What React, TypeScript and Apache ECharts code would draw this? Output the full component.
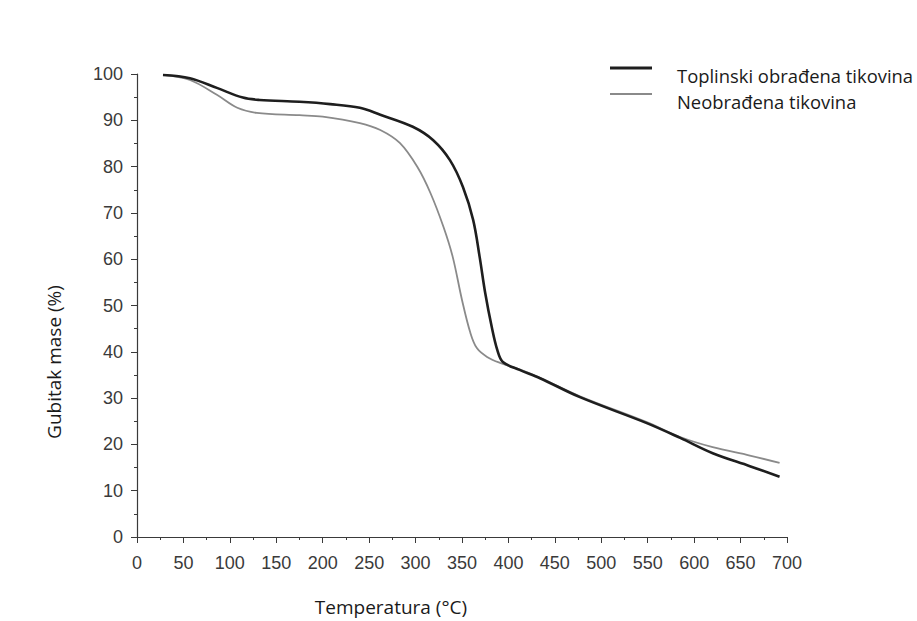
import React, { useEffect, useRef } from "react";
import * as echarts from "echarts";

// Temperature (°C) / mass (%) samples for each TGA curve
const treatedTemp = [28, 57, 86, 114, 132, 175, 208, 240, 262, 297, 319, 337, 351, 362, 369, 375, 382, 388, 394, 412, 434, 477, 549, 585, 620, 660, 692];
const treatedMass = [99.8, 99.1, 97.0, 94.9, 94.4, 94.0, 93.5, 92.7, 91.2, 88.6, 85.7, 81.4, 75.6, 68.5, 60.5, 52.7, 45.4, 40.4, 37.8, 36.1, 34.3, 30.2, 24.6, 21.4, 18.1, 15.3, 13.0];

const rawTemp = [28, 57, 86, 108, 129, 175, 200, 240, 262, 283, 302, 316, 330, 340, 350, 359, 366, 377, 391, 412, 434, 477, 549, 585, 620, 660, 692];
const rawMass = [99.8, 98.7, 95.5, 92.7, 91.6, 91.1, 90.8, 89.4, 87.9, 85.1, 79.9, 74.3, 67.0, 60.5, 51.2, 44.1, 40.8, 38.9, 37.6, 36.2, 34.4, 30.4, 24.8, 21.6, 19.4, 17.6, 16.0];

const seriesNames = ["Toplinski obrađena tikovina", "Neobrađena tikovina"];
const xTitle = "Temperatura (°C)";
const yTitle = "Gubitak mase (%)";

const zip = (xs: number[], ys: number[]) => xs.map((x, i) => [x, ys[i]]);

export default function App() {
  const ref = useRef<HTMLDivElement>(null);

  useEffect(() => {
    if (!ref.current) return;
    const chart = echarts.init(ref.current, null, { renderer: "svg" });
    const axisColor = "#3a3a3a";
    const labelFont = { fontFamily: "Liberation Sans, Arial, sans-serif", fontSize: 18, color: "#3a3a3a" };
    const titleFont = "Open Sans, sans-serif";
    const titleSize = 19;
    const legendSize = 18.4;

    chart.setOption({
      animation: false,
      backgroundColor: "#fff",
      grid: { left: 137, right: 130, top: 74, bottom: 84, containLabel: false },
      xAxis: {
        type: "value",
        min: 0,
        max: 700,
        interval: 50,
        axisLine: { show: true, lineStyle: { color: axisColor, width: 1.2 } },
        axisTick: { show: true, inside: false, length: 6, lineStyle: { color: axisColor } },
        minorTick: { show: true, splitNumber: 2, length: 3, lineStyle: { color: axisColor } },
        axisLabel: { ...labelFont, margin: 17 },
        splitLine: { show: false },
      },
      yAxis: {
        type: "value",
        min: 0,
        max: 100,
        interval: 10,
        axisLine: { show: true, lineStyle: { color: axisColor, width: 1.2 } },
        axisTick: { show: true, inside: false, length: 6, lineStyle: { color: axisColor } },
        minorTick: { show: true, splitNumber: 2, length: 3, lineStyle: { color: axisColor } },
        axisLabel: { ...labelFont, margin: 14 },
        splitLine: { show: false },
      },
      series: [
        {
          name: seriesNames[1],
          type: "line",
          data: zip(rawTemp, rawMass),
          smooth: 0.35,
          showSymbol: false,
          lineStyle: { color: "#8a8a8a", width: 1.8 },
        },
        {
          name: seriesNames[0],
          type: "line",
          data: zip(treatedTemp, treatedMass),
          smooth: 0.35,
          showSymbol: false,
          lineStyle: { color: "#1e1e1e", width: 2.6 },
        },
      ],
      graphic: [
        {
          type: "line",
          shape: { x1: 610, y1: 68, x2: 652, y2: 68 },
          style: { stroke: "#1e1e1e", lineWidth: 3 },
        },
        {
          type: "line",
          shape: { x1: 610, y1: 94, x2: 652, y2: 94 },
          style: { stroke: "#8a8a8a", lineWidth: 1.8 },
        },
        {
          type: "text",
          x: 677,
          y: 75,
          style: { text: seriesNames[0], fontFamily: titleFont, fontSize: legendSize, fill: "#1a1a1a", verticalAlign: "middle" },
        },
        {
          type: "text",
          x: 677,
          y: 101,
          style: { text: seriesNames[1], fontFamily: titleFont, fontSize: legendSize, fill: "#1a1a1a", verticalAlign: "middle" },
        },
        {
          type: "text",
          x: 391,
          y: 607,
          style: { text: xTitle, fontFamily: titleFont, fontSize: titleSize, fill: "#1a1a1a", align: "center", verticalAlign: "middle" },
        },
        {
          type: "text",
          x: 54,
          y: 362,
          rotation: Math.PI / 2,
          style: { text: yTitle, fontFamily: titleFont, fontSize: titleSize, fill: "#1a1a1a", align: "center", verticalAlign: "middle" },
        },
      ],
    });

    return () => chart.dispose();
  }, []);

  return (
    <div
      ref={ref}
      style={{ position: "fixed", left: 0, top: 0, width: 917, height: 621, background: "#fff" }}
    />
  );
}
